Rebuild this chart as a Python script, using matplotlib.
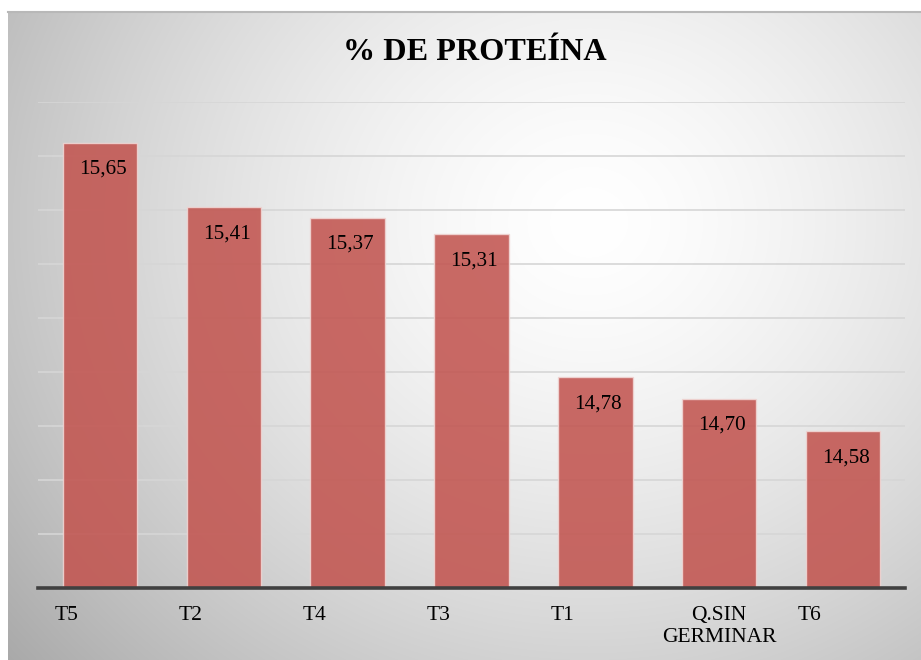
import matplotlib.pyplot as plt
import numpy as np

# data
categories = ['T5', 'T2', 'T4', 'T3', 'T1', 'Q.SIN\nGERMINAR', 'T6']
protein = [15.65, 15.41, 15.37, 15.31, 14.78, 14.70, 14.58]

plt.rcParams['font.family'] = ['Liberation Serif', 'DejaVu Serif']

W, H = 921, 660
fig = plt.figure(figsize=(W / 100, H / 100), dpi=100)

# radial gradient panel behind everything
bg = fig.add_axes([8 / W, 0, 1 - 8 / W, 1 - 12 / H], zorder=-10)
yy, xx = np.mgrid[0:648, 0:913]
cx, cy = 580, 210
r = np.sqrt(((xx - cx) / 620.0) ** 2 + ((yy - cy) / 560.0) ** 2)
shade = 1.0 - 0.25 * np.clip(r, 0, 1.3) ** 1.5
bg.imshow(np.dstack([shade] * 3), aspect='auto', extent=[0, 1, 0, 1], origin='upper')
bg.set_xlim(0, 1)
bg.set_ylim(0, 1)
bg.axis('off')
bg.plot([0, 1], [1, 1], color='#b8b8b8', lw=1.5, transform=bg.transAxes, clip_on=False)

ax = fig.add_axes([38 / W, 1 - 588 / H, (905 - 38) / W, (588 - 102) / H])
ax.patch.set_alpha(0)

x = np.arange(len(categories))
ax.bar(x, protein, width=0.6, bottom=0, color='#c25550', alpha=0.88,
       edgecolor='#f0d6d4', linewidth=1, zorder=3)

ax.set_xlim(-0.5, len(categories) - 0.5)
ax.set_ylim(14.0, 15.8)
ax.set_yticks(np.arange(14.2, 15.81, 0.2))
ax.yaxis.grid(True, color='#d6d6d6', lw=1.2, zorder=0)
ax.tick_params(left=False, labelleft=False, bottom=False, labelbottom=False)
for s in ['top', 'right', 'left']:
    ax.spines[s].set_visible(False)
ax.spines['bottom'].set_color('#404040')
ax.spines['bottom'].set_linewidth(2.6)
ax.spines['bottom'].set_zorder(5)

# value labels inside bar tops
for xi, v in zip(x, protein):
    ax.annotate(f'{v:.2f}'.replace('.', ','), (xi, v), xytext=(2, -19),
                textcoords='offset points', ha='center', va='center',
                fontsize=15.2, color='black', zorder=6)

# category labels
trans = ax.get_xaxis_transform()
for xi, lab in zip(x, categories):
    if '\n' in lab:
        ax.text(xi, -0.038, lab, transform=trans, ha='center', va='top',
                multialignment='center', fontsize=15.5, linespacing=1.2)
    else:
        ax.text(xi - 0.363, -0.038, lab, transform=trans, ha='left', va='top',
                fontsize=15.5)

fig.text(475 / W, 1 - 52 / H, '% DE PROTEÍNA', ha='center', va='center',
         fontsize=23.2, fontweight='bold')

fig.savefig('out.png', dpi=100)
